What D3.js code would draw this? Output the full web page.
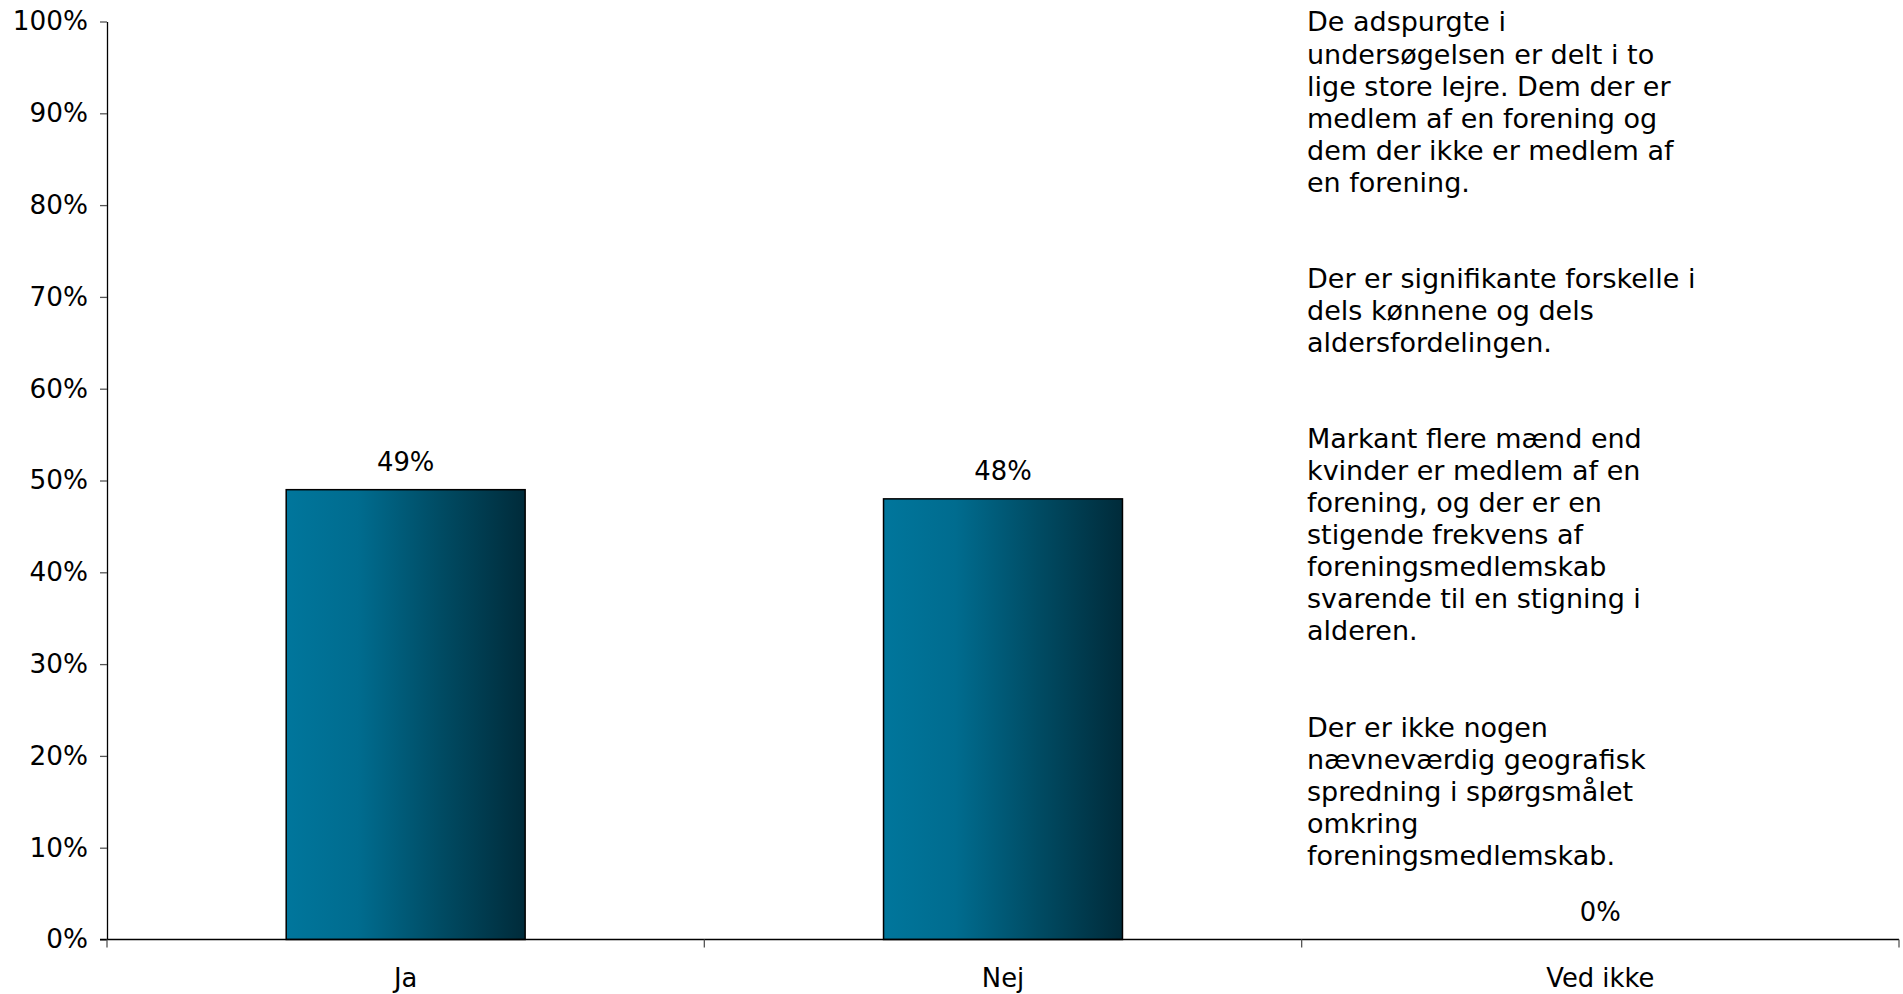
<!DOCTYPE html>
<html><head><meta charset="utf-8">
<script src="https://cdn.jsdelivr.net/npm/d3@7"></script>
<style>html,body{margin:0;padding:0;background:#fff;}svg{display:block;}</style>
</head><body>
<script>
const categories = ["Ja", "Nej", "Ved ikke"];
const values = [0.49, 0.48, 0.00];
const yTicks = [0, 0.1, 0.2, 0.3, 0.4, 0.5, 0.6, 0.7, 0.8, 0.9, 1.0];
const notes = [
  ["De adspurgte i", "undersøgelsen er delt i to", "lige store lejre. Dem der er", "medlem af en forening og", "dem der ikke er medlem af", "en forening."],
  ["Der er signifikante forskelle i", "dels kønnene og dels", "aldersfordelingen."],
  ["Markant flere mænd end", "kvinder er medlem af en", "forening, og der er en", "stigende frekvens af", "foreningsmedlemskab", "svarende til en stigning i", "alderen."],
  ["Der er ikke nogen", "nævneværdig geografisk", "spredning i spørgsmålet", "omkring", "foreningsmedlemskab."]
];

const W = 1903, H = 994;
const font = "'DejaVu Sans', Verdana, sans-serif";
const svg = d3.select("body").append("svg").attr("width", W).attr("height", H);

const x0 = 107, x1 = 1899, y0 = 939.5, y1 = 21.5;
const x = d3.scaleBand().domain(categories).range([x0, x1]).paddingInner(0.6).paddingOuter(0.3);
const xb = d3.scaleBand().domain(categories).range([x0, x1]);
const y = d3.scaleLinear().domain([0, 1]).range([y0, y1]);

const defs = svg.append("defs");
const grad = defs.append("linearGradient").attr("id", "bg").attr("x1", "0").attr("x2", "1").attr("y1", "0").attr("y2", "0");
grad.append("stop").attr("offset", "0").attr("stop-color", "#00769c");
grad.append("stop").attr("offset", "0.3").attr("stop-color", "#006c8f");
grad.append("stop").attr("offset", "0.65").attr("stop-color", "#004b63");
grad.append("stop").attr("offset", "1").attr("stop-color", "#002b3a");

// bars
svg.append("g").selectAll("rect").data(categories.filter((c, i) => values[i] > 0)).join("rect")
  .attr("x", d => x(d))
  .attr("width", x.bandwidth())
  .attr("y", d => y(values[categories.indexOf(d)]))
  .attr("height", d => y0 - y(values[categories.indexOf(d)]))
  .attr("fill", "url(#bg)")
  .attr("stroke", "#000").attr("stroke-width", 1.5);

// value labels
svg.append("g").selectAll("text").data(categories).join("text")
  .attr("x", d => xb(d) + xb.bandwidth() / 2)
  .attr("y", (d, i) => y(values[i]) - 28)
  .attr("dy", "0.35em")
  .attr("text-anchor", "middle")
  .attr("font-family", font).attr("font-size", 25.8).attr("fill", "#000")
  .text((d, i) => Math.round(values[i] * 100) + "%");

// y axis
const yAxis = d3.axisLeft(y).tickValues(yTicks).tickFormat(d3.format(".0%")).tickSizeInner(7).tickSizeOuter(0).tickPadding(12);
const gy = svg.append("g").attr("transform", `translate(${x0},0)`).call(yAxis);
gy.select(".domain").attr("stroke", "#000").attr("stroke-width", 1.3);
gy.selectAll(".tick line").attr("stroke", "#555").attr("stroke-width", 1.3);
gy.selectAll(".tick text").attr("font-family", font).attr("font-size", 26.3).attr("fill", "#000");

// x axis
const gx = svg.append("g").attr("transform", `translate(0,${y0})`);
gx.append("line").attr("x1", x0 - 7).attr("x2", x1).attr("y1", 0).attr("y2", 0).attr("stroke", "#000").attr("stroke-width", 1.3);
const bounds = [x0].concat(categories.map(c => xb(c) + xb.bandwidth()));
gx.selectAll("line.t").data(bounds).join("line").attr("class", "t")
  .attr("x1", d => d).attr("x2", d => d).attr("y1", 0).attr("y2", 8)
  .attr("stroke", "#555").attr("stroke-width", 1.3);
gx.selectAll("text").data(categories).join("text")
  .attr("x", d => xb(d) + xb.bandwidth() / 2)
  .attr("y", 38).attr("dy", "0.35em")
  .attr("text-anchor", "middle")
  .attr("font-family", font).attr("font-size", 25.8).attr("fill", "#000")
  .text(d => d);

// notes
const lineH = 32.05;
const nt = svg.append("text").attr("font-family", font).attr("font-size", 27).attr("fill", "#000");
let row = 0;
notes.forEach((para, pi) => {
  if (pi > 0) row += 2;
  para.forEach(l => {
    nt.append("tspan").attr("x", 1307).attr("y", 22 + row * lineH).attr("dy", "0.35em").text(l);
    row++;
  });
});
</script>
</body></html>
